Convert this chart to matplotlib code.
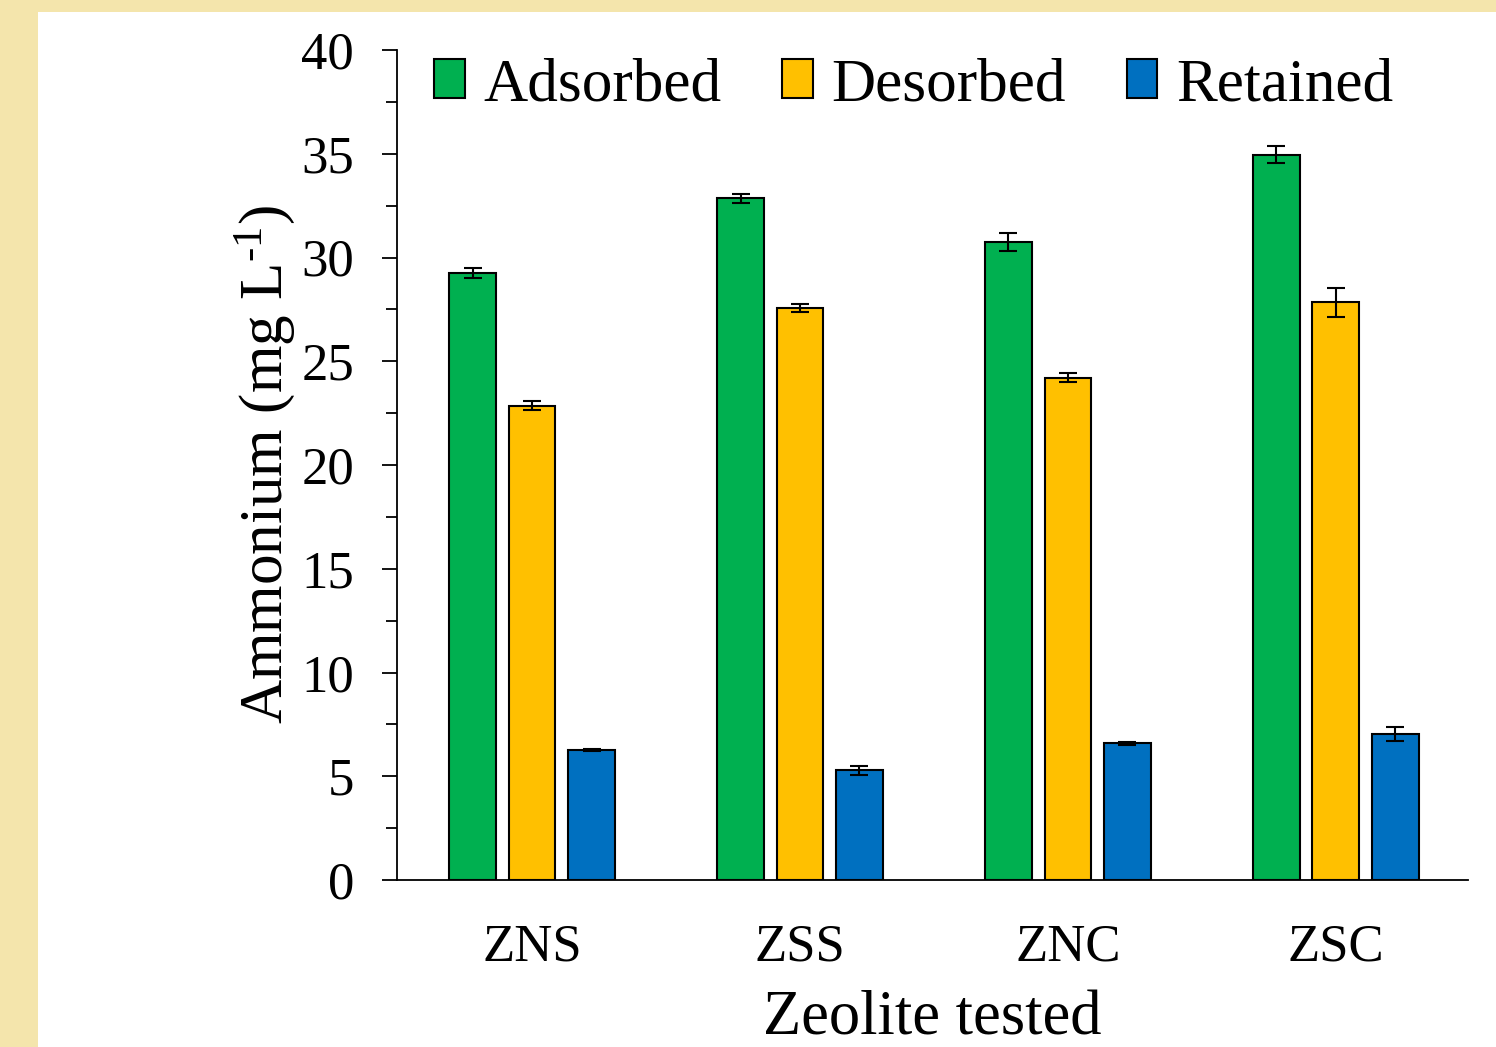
import numpy as np
import matplotlib
matplotlib.use("Agg")
import matplotlib.pyplot as plt
from matplotlib.patches import Rectangle
from matplotlib.ticker import MultipleLocator

plt.rcParams['font.family'] = ['Liberation Serif', 'DejaVu Serif']
plt.rcParams['mathtext.fontset'] = 'custom'
plt.rcParams['mathtext.rm'] = 'Liberation Serif'
plt.rcParams['mathtext.default'] = 'regular'

# data
zeolites = ['ZNS', 'ZSS', 'ZNC', 'ZSC']
series = ['Adsorbed', 'Desorbed', 'Retained']
adsorbed = [29.25, 32.85, 30.75, 34.95]
desorbed = [22.85, 27.55, 24.2, 27.85]
retained = [6.27, 5.28, 6.58, 7.05]
adsorbed_err = [0.22, 0.2, 0.42, 0.4]
desorbed_err = [0.22, 0.2, 0.22, 0.7]
retained_err = [0.05, 0.22, 0.07, 0.34]

colors = ['#00B050', '#FFC000', '#0070C0']
values = [adsorbed, desorbed, retained]
errors = [adsorbed_err, desorbed_err, retained_err]

fig = plt.figure(figsize=(14.96, 10.47), dpi=100)
fig.patch.set_facecolor('#F4E5AC')
# white panel inside the beige frame
fig.patches.append(Rectangle((38 / 1496, 0), 1 - 38 / 1496, 1 - 12 / 1047,
                             transform=fig.transFigure, facecolor='white',
                             edgecolor='none', zorder=-5))

ax = fig.add_axes([397 / 1496, 1 - 880 / 1047, (1468 - 397) / 1496, (880 - 50) / 1047])
ax.set_facecolor('none')

x = np.arange(len(zeolites))
width = 0.175
step = 0.222
for i, (name, vals, errs, c) in enumerate(zip(series, values, errors, colors)):
    ax.bar(x + (i - 1) * step, vals, width, color=c, edgecolor='black',
           linewidth=1.5, label=name, zorder=2)
    ax.errorbar(x + (i - 1) * step, vals, yerr=errs, fmt='none', ecolor='black',
                elinewidth=1.5, capsize=6.5, capthick=1.5, zorder=3)

ax.set_xlim(-0.504, 3.493)
ax.set_ylim(0, 40)
ax.yaxis.set_major_locator(MultipleLocator(5))
ax.yaxis.set_minor_locator(MultipleLocator(2.5))
ax.set_xticks(x)
ax.set_xticklabels(zeolites)
ax.tick_params(axis='x', length=0, pad=31, labelsize=38)
ax.tick_params(axis='y', which='major', length=11, width=1.3, pad=20, labelsize=38)
ax.tick_params(axis='y', which='minor', length=8, width=1.3)
for s in ['top', 'right']:
    ax.spines[s].set_visible(False)
for s in ['left', 'bottom']:
    ax.spines[s].set_linewidth(1.3)

ax.set_ylabel(r'Ammonium (mg L$^{\text{-1}}$)', fontsize=44, labelpad=3)
ax.set_xlabel('Zeolite tested', fontsize=45, labelpad=14)

ax.legend(loc='upper left', bbox_to_anchor=(0.012, 1.02), ncol=3, frameon=False,
          fontsize=44, handlelength=0.5, handleheight=0.6, handletextpad=0.3,
          columnspacing=1.0, borderaxespad=0)

fig.savefig('out.png', dpi=100, facecolor=fig.get_facecolor())
